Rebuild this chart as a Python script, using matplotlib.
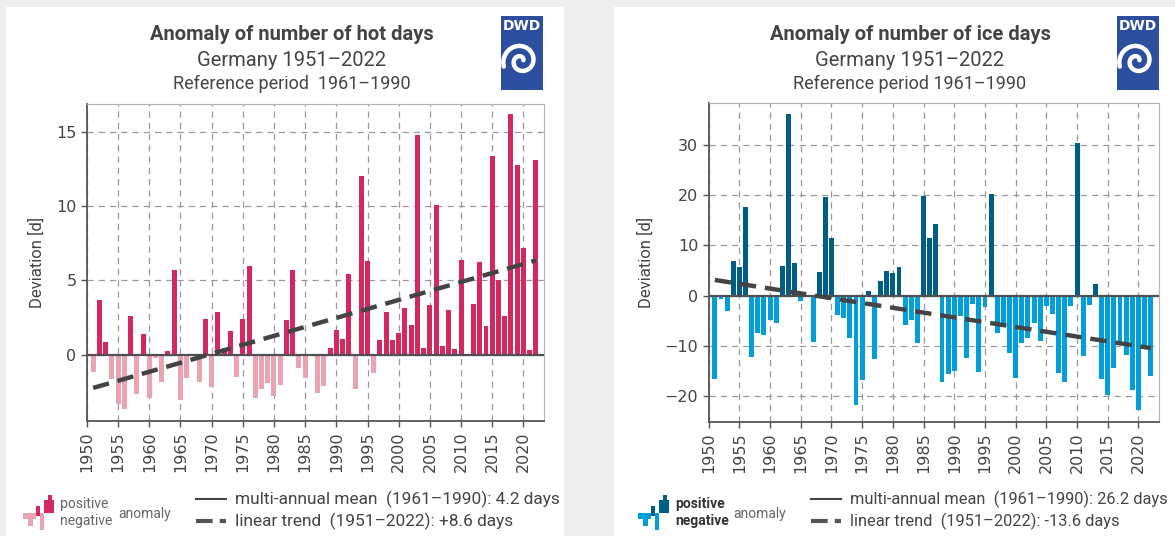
import numpy as np
import matplotlib
matplotlib.use("Agg")
import matplotlib.pyplot as plt
from matplotlib.patches import Rectangle

# --- data ---
years = list(range(1951, 2023))

hot_anom = [
    -1.2, 3.7, 0.86, -1.67, -3.35, -3.65, 2.6, -2.66, 1.4, -2.9,
    -0.25, -1.87, 0.27, 5.7, -3.05, -1.58, -0.1, -1.87, 2.42, -2.2,
    2.84, 0.45, 1.56, -1.49, 2.42, 5.98, -2.96, -2.35, -1.94, -2.8,
    -2.03, 2.3, 5.71, -0.93, -1.6, 0.0, -2.6, -2.12, 0.45, 1.67,
    1.04, 5.44, -2.35, 12.05, 6.32, -1.22, 0.95, 2.87, 0.95, 1.44,
    3.14, 2.0, 14.8, 0.47, 3.36, 10.1, 0.59, 3.02, 0.36, 6.4,
    0.05, 3.4, 6.25, 1.92, 13.4, 5.0, 2.6, 16.2, 12.78, 7.18,
    0.32, 13.1,
]

ice_anom = [
    -16.6, -0.6, -3.0, 6.9, 5.7, 17.7, -12.2, -7.4, -7.8, -4.8,
    -5.4, 5.9, 36.3, 6.5, -1.0, 0.0, -9.2, 4.7, 19.7, 11.5,
    -3.8, -4.4, -8.4, -21.9, -16.8, 0.93, -12.6, 2.9, 4.9, 4.5,
    5.7, -5.8, -4.9, -9.4, 19.9, 11.5, 14.3, -17.2, -15.6, -15.0,
    -4.1, -12.4, -1.6, -15.2, -2.2, 20.3, -7.4, -5.7, -11.4, -16.4,
    -9.4, -8.4, -5.4, -9.0, -2.0, -3.6, -15.4, -17.2, -2.0, 30.5,
    -12.0, -1.8, 2.3, -16.6, -19.8, -14.4, -9.8, -11.8, -18.8, -22.8,
    -10.0, -16.0,
]

trend_years = [1951, 2022]
hot_trend = [-2.25, 6.35]
ice_trend = [3.1, -10.5]

xtick_years = list(range(1950, 2021, 5))
hot_yticks = [0, 5, 10, 15]
ice_yticks = [-20, -10, 0, 10, 20, 30]

HOT_POS, HOT_NEG = "#d4285f", "#eba3b1"
ICE_POS, ICE_NEG = "#005e85", "#009fda"
TXT = "#444444"
FONT = ["Liberation Sans Narrow", "Roboto", "DejaVu Sans"]

W, H = 1175, 536
fig = plt.figure(figsize=(W / 100, H / 100), dpi=100, facecolor="#efefef")

# background canvas in pixel coordinates
bg = fig.add_axes([0, 0, 1, 1], zorder=-5)
bg.set_xlim(0, W); bg.set_ylim(H, 0); bg.axis("off")
bg.add_patch(Rectangle((6, 7), 558, 529, fc="white", ec="none"))
bg.add_patch(Rectangle((614, 7), 561, 529, fc="white", ec="none"))


def logo(x, y):
    bg.add_patch(Rectangle((x, y), 42, 74, fc="#2c4e9f", ec="none"))
    bg.text(x + 21, y + 10, "DWD", color="white", fontsize=10,
            fontweight="bold", ha="center", va="center", family="DejaVu Sans")
    t = np.linspace(0.3, 3.1 * np.pi, 200)
    r = 2.0 + 5.2 * t / np.pi
    cx, cy = x + 20, y + 45
    bg.plot(cx + r * np.cos(t), cy - r * np.sin(t), color="white", lw=3.2,
            solid_capstyle="round")


def header(cx, title, refline):
    bg.text(cx, 35, title, ha="center", va="center", fontsize=14.5,
            fontweight="bold", color=TXT, family=FONT)
    bg.text(cx, 60, "Germany 1951–2022", ha="center", va="center",
            fontsize=14.5, color=TXT, family=FONT)
    bg.text(cx, 84, refline, ha="center", va="center", fontsize=13,
            color=TXT, family=FONT)


def legend(x0, pos, neg, mean_txt, trend_txt, bold, tsize):
    # little bar icon
    for (rx, ry, rw, rh) in [(12.7, 10.7, 4.3, 10), (20.6, 4.6, 10.7, 13.3),
                             (24.5, 0, 4.3, 4.6)]:
        bg.add_patch(Rectangle((x0 + rx, 495 + ry), rw, rh, fc=pos, ec="none"))
    for (rx, ry, rw, rh) in [(0, 17.9, 12.7, 6.4), (4.7, 24.3, 5, 7.1),
                             (17, 17.9, 3.6, 17.1)]:
        bg.add_patch(Rectangle((x0 + rx, 495 + ry), rw, rh, fc=neg, ec="none"))
    fw = "bold" if bold else "normal"
    col = "#333333" if bold else "#666666"
    bg.text(x0 + 37, 504, "positive", fontsize=10, color=col, fontweight=fw,
            va="center", family=FONT)
    bg.text(x0 + 37, 521, "negative", fontsize=10, color=col, fontweight=fw,
            va="center", family=FONT)
    bg.text(x0 + 95, 514, "anomaly", fontsize=10,
            color="#666666", va="center", family=FONT)
    lx = x0 + 173
    bg.plot([lx, lx + 30], [499, 499], color="#444444", lw=1.5)
    bg.plot([lx, lx + 30], [521, 521], color="#555555", lw=3,
            linestyle=(0, (4, 1.7)))
    bg.text(lx + 39, 499, mean_txt, fontsize=tsize, color=TXT, va="center",
            family=FONT)
    bg.text(lx + 39, 521, trend_txt, fontsize=tsize, color=TXT, va="center",
            family=FONT)


def panel(rect, values, trend, pos, neg, ylim, yticks):
    ax = fig.add_axes(rect)
    cols = [pos if v >= 0 else neg for v in values]
    ax.bar(years, values, width=0.8, color=cols, zorder=2)
    ax.axhline(0, color="#505050", lw=1.6, zorder=3)
    ax.plot(trend_years, trend, color="#444444", lw=3.2,
            linestyle=(0, (3.7, 2.0)), zorder=4)
    ax.set_xlim(1950, 2023.3)
    ax.set_ylim(*ylim)
    ax.set_xticks(xtick_years)
    ax.set_xticklabels([str(y) for y in xtick_years], rotation=90)
    ax.set_yticks(yticks)
    ax.grid(True, color="#9a9a9a", lw=0.9, linestyle=(0, (5, 4)), zorder=0)
    ax.set_axisbelow(True)
    for s in ("top", "right"):
        ax.spines[s].set_color("#b5b5b5")
    for s in ("left", "bottom"):
        ax.spines[s].set_color("#555555")
        ax.spines[s].set_linewidth(1.3)
    ax.tick_params(colors="#555555", labelcolor=TXT, labelsize=11.5,
                   length=4, width=1)
    ax.set_ylabel("Deviation [d]", fontsize=12, color=TXT, family=FONT,
                  labelpad=8)
    return ax


panel([86.9 / W, 1 - 421.3 / H, (544 - 86.9) / W, (421.3 - 104) / H],
      hot_anom, hot_trend, HOT_POS, HOT_NEG, (-4.5, 16.9), hot_yticks)
panel([708.7 / W, 1 - 422.2 / H, (1158.7 - 708.7) / W, (422.2 - 102.7) / H],
      ice_anom, ice_trend, ICE_POS, ICE_NEG, (-25.3, 38.5), ice_yticks)

header(292, "Anomaly of number of hot days", "Reference period  1961–1990")
header(910, "Anomaly of number of ice days", "Reference period 1961–1990")
logo(501, 16)
logo(1117, 16)
legend(23, HOT_POS, HOT_NEG, "multi-annual mean  (1961–1990): 4.2 days",
       "linear trend  (1951–2022): +8.6 days", False, 12.4)
legend(638, ICE_POS, ICE_NEG, "multi-annual mean  (1961–1990): 26.2 days",
       "linear trend  (1951–2022): -13.6 days", True, 11.8)

fig.savefig("out.png", dpi=100, facecolor=fig.get_facecolor())
